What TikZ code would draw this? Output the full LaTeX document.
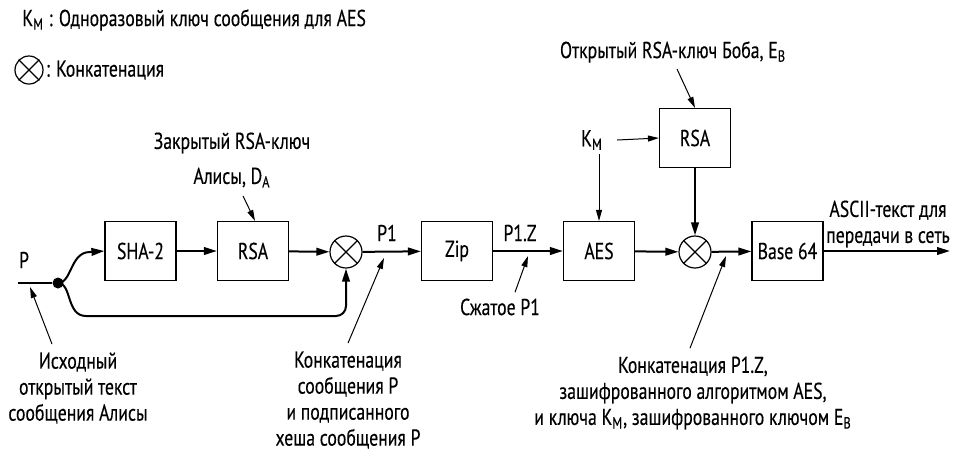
\documentclass[tikz,border=0pt]{standalone}
\usepackage{fontspec}
\setmainfont{PT Sans}[FakeStretch=0.77,FakeBold=0.3]
\usetikzlibrary{arrows.meta,positioning}
\tikzset{
  >={Triangle[length=6.5pt,width=3.8pt]},
  blk/.style={draw,line width=0.6pt,minimum width=35.5pt,minimum height=29.5pt,inner sep=0pt},
  cat/.style={draw,circle,line width=0.6pt,minimum size=16pt,inner sep=0pt},
  lab/.style={align=center,inner sep=0pt},
  arr/.style={->,line width=1pt},
  tarr/.style={-{Triangle[length=5.5pt,width=3pt]},line width=0.5pt},
}

\begin{document}
\begin{tikzpicture}[x=0.5pt,y=-0.5pt,every node/.style={font=\fontsize{11.5}{13}\selectfont}]
\useasboundingbox (0,0) rectangle (956,456);
% legend
\node[lab,anchor=west] (kmdef) at (22,20) {K\textsubscript{M} : Одноразовый ключ сообщения для AES};
\node[cat,minimum size=14pt] (leg) at (29,70) {};
\node[lab,anchor=west] (legt) at ([xshift=1pt]leg.east) {: Конкатенация};
% blocks
\node[blk] (sha) at (140.5,251) {SHA-2};
\node[blk] (rsaA) at (253,251) {RSA};
\node[cat] (cat1) at (346,252) {};
\node[blk] (zip) at (457,251) {Zip};
\node[blk] (aes) at (599,251) {AES};
\node[cat] (cat2) at (695,252) {};
\node[blk] (b64) at (787.5,251) {Base 64};
\node[blk] (rsaB) at (695,138) {RSA};
\foreach \c in {leg,cat1,cat2}
  \draw[line width=0.6pt] (\c.north west) -- (\c.south east) (\c.north east) -- (\c.south west);
% input
\node[circle,fill,inner sep=0pt,minimum size=5.5pt] (dot) at (58,283) {};
\coordinate (pin) at (18,283);
\node (plab) at (24,260) {P};
\draw[line width=1pt] (pin) -- (dot);
\draw[arr] (dot.center) .. controls (72,283) and (70,252) .. (90,252) -- (sha.west);
\draw[arr] (dot.center) .. controls (72,283) and (66,316) .. (86,316) [rounded corners=5pt] -- (346,316) -- (cat1.south);
% main line
\draw[arr] (sha) -- (rsaA);
\draw[arr] (rsaA) -- (cat1);
\draw[arr] (cat1) -- (zip);
\draw[arr] (zip) -- (aes);
\draw[arr] (aes) -- (cat2);
\draw[arr] (cat2) -- (b64);
\coordinate (out) at (950,251);
\draw[arr] (b64) -- (out);
\draw[arr] (rsaB) -- (cat2);
\node (p1) at (387,233) {P1};
\node (p1z) at (520,233) {P1.Z};
\node[lab] (ascii) at (888,224) {ASCII-текст для\\передачи в сеть};
% keys
\node[lab] (da) at (232,160) {Закрытый RSA-ключ\\[4.5pt]Алисы, D\textsubscript{A}};
\draw[tarr] ([shift={(11,8)}]da.south) -- ([xshift=1pt]rsaA.north);
\node[lab] (eb) at (673,52) {Открытый RSA-ключ Боба, E\textsubscript{B}};
\draw[tarr] ([shift={(4,6)}]eb.south) -- (rsaB.north);
\node[inner sep=2pt] (km) at (592,140) {K\textsubscript{M}};
\draw[tarr] ([xshift=5pt]km.east) -- (rsaB.west);
\draw[tarr] (km.south -| aes.north) -- (aes.north);
% notes
\node[lab] (src) at (78,388) {Исходный\\открытый текст\\сообщения Алисы};
\coordinate (srcT) at (30,287);
\draw[tarr] ([shift={(-26,-8)}]src.north) -- (srcT);
\node[lab] (sig) at (348,400) {Конкатенация\\сообщения P\\и подписанного\\хеша сообщения P};
\coordinate (sigT) at (384,258);
\draw[tarr] ([shift={(0,-8)}]sig.north) -- (sigT);
\node[lab] (cmp) at (500,307) {Сжатое P1};
\coordinate (cmpT) at (528,256);
\draw[tarr] ([shift={(15,-6)}]cmp.north) -- (cmpT);
\node[lab] (fin) at (693,393) {Конкатенация P1.Z,\\зашифрованного алгоритмом AES,\\и ключа K\textsubscript{M}, зашифрованного ключом E\textsubscript{B}};
\coordinate (finT) at (726,256);
\draw[tarr] ([shift={(-3,-8)}]fin.north) -- (finT);
\end{tikzpicture}
\end{document}
